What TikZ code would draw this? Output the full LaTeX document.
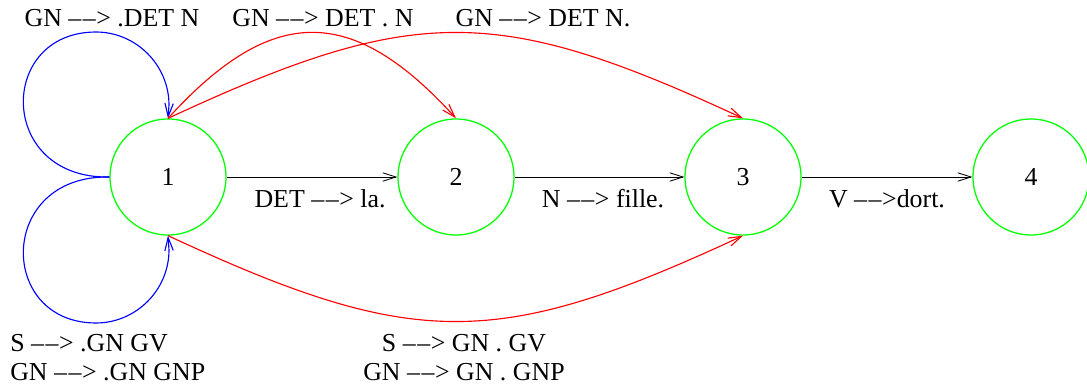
\documentclass[tikz,border=0pt]{standalone}
\usepackage{fontspec}
\setmainfont{Liberation Serif}
\usetikzlibrary{arrows.meta}
\newcommand{\gives}{\textendash\kern0.06em\textendash\kern0.02em>}
\begin{document}
\begin{tikzpicture}[x=0.025cm,y=-0.025cm,
  state/.style={circle,draw=green,line width=0.9pt,minimum size=2.9cm,inner sep=0pt,font=\fontsize{18.4pt}{20.6pt}\selectfont},
  lbl/.style={inner sep=0pt,font=\fontsize{18.4pt}{21pt}\selectfont},
  tip/.style={-{Straight Barb[length=3.3mm,width=2.1mm]}},
  tr/.style={tip,draw=black,line width=0.6pt},
  bl/.style={tip,draw=blue,line width=0.8pt},
  rd/.style={tip,draw=red,line width=0.8pt}]
\clip (0,0) rectangle (1087,387);
\node[state] (n1) at (168,177) {1};
\node[state] (n2) at (456,177) {2};
\node[state] (n3) at (743,177) {3};
\node[state] (n4) at (1031,177) {4};
\draw[tr] (n1) -- (n2);
\draw[tr] (n2) -- (n3);
\draw[tr] (n3) -- (n4);
\node[lbl,anchor=base] (l12) at (320,207) {DET \gives{} la.};
\node[lbl,anchor=base] (l23) at (603,207) {N \gives{} fille.};
\node[lbl,anchor=base] (l34) at (887,207) {V \gives{}dort.};
\draw[bl] (n1.west) .. controls (-3,179) and (-3,32) .. (96,32) .. controls (136,32) and (169,65) .. (169,105) -- (n1.north);
\draw[bl] (n1.west) .. controls (-3,175) and (-3,323) .. (96,323) .. controls (136,323) and (169,290) .. (169,250) -- (n1.south);
\draw[rd] (n1.north) .. controls (272,4) and (352,4) .. (n2.north);
\draw[rd] (n1.north) .. controls (414,4) and (497,4) .. (n3.north);
\draw[rd] (n1.south) .. controls (414,350) and (497,350) .. (n3.south);
\node[lbl,anchor=base] (t1) at (112,27) {GN \gives{} .DET N};
\node[lbl,anchor=base] (t2) at (323,27) {GN \gives{} DET . N};
\node[lbl,anchor=base] (t3) at (543,27) {GN \gives{} DET N.};
\node[lbl,anchor=north west,align=left] (b1) at (10,334) {S \gives{} .GN GV\\GN \gives{} .GN GNP};
\node[lbl,anchor=north,align=center] (b2) at (464,334) {S \gives{} GN . GV\\GN \gives{} GN . GNP};
\end{tikzpicture}
\end{document}
